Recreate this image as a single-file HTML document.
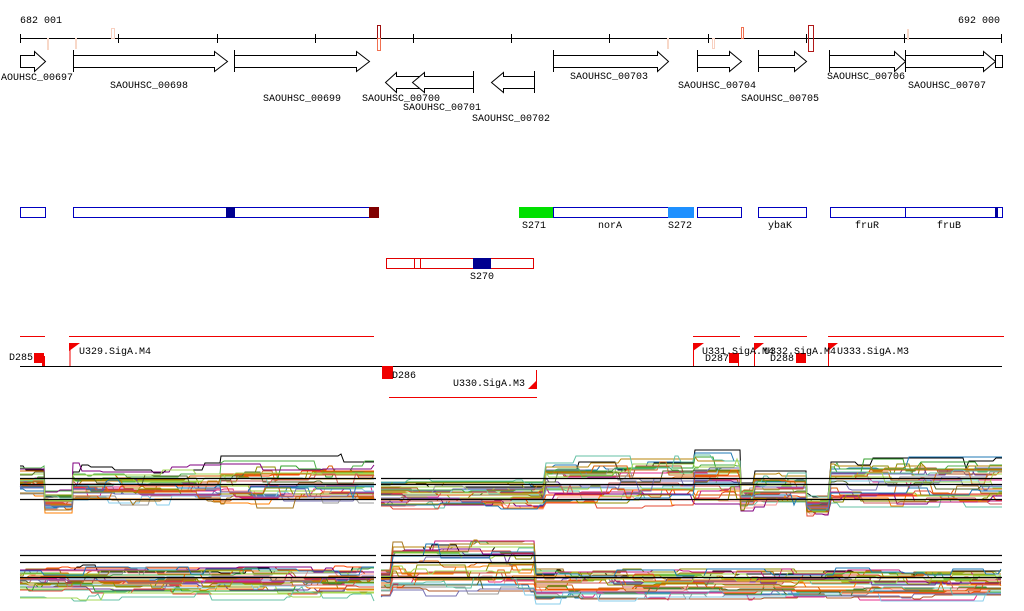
<!DOCTYPE html>
<html><head><meta charset="utf-8"><style>
html,body{margin:0;padding:0;background:#fff;}
svg{display:block;}
text{font-family:"Liberation Mono",monospace;font-size:10px;fill:#000;}
</style></head><body>
<svg id="s" width="1024" height="611" xmlns="http://www.w3.org/2000/svg">
<g id="exp"></g>
<text x="20" y="23">682 001</text>
<text x="1000" y="23" text-anchor="end">692 000</text>
<line x1="20" y1="38.5" x2="1002" y2="38.5" stroke="#000"/>
<g stroke="#000">
<line x1="20.5" y1="34" x2="20.5" y2="43"/><line x1="118.5" y1="34" x2="118.5" y2="43"/><line x1="217.5" y1="34" x2="217.5" y2="43"/><line x1="315.5" y1="34" x2="315.5" y2="43"/><line x1="413.5" y1="34" x2="413.5" y2="43"/><line x1="511.5" y1="34" x2="511.5" y2="43"/><line x1="609.5" y1="34" x2="609.5" y2="43"/><line x1="708.5" y1="34" x2="708.5" y2="43"/><line x1="806.5" y1="34" x2="806.5" y2="43"/><line x1="904.5" y1="34" x2="904.5" y2="43"/><line x1="1001.5" y1="34" x2="1001.5" y2="43"/>
</g>
<g fill="none">
<rect x="47.5" y="38.5" width="1" height="11" stroke="#f8d8c8"/>
<rect x="75.5" y="38.5" width="1" height="10" stroke="#f8d8c8"/>
<rect x="111.5" y="28.5" width="3" height="10" stroke="#f8d0c0"/>
<rect x="377.5" y="25.5" width="3" height="13" stroke="#a01010"/>
<rect x="377.5" y="38.5" width="3" height="12" stroke="#f07050"/>
<rect x="667.5" y="38.5" width="1" height="10" stroke="#f8d8c8"/>
<rect x="712.5" y="38.5" width="2" height="10" stroke="#f8d0c0"/>
<rect x="741.5" y="27.5" width="2" height="11" stroke="#f07050"/>
<rect x="808.5" y="25.5" width="5" height="26" stroke="#b01818"/>
<rect x="907.5" y="29.5" width="1" height="10" stroke="#f8d8c8"/>
</g>
<g fill="#fff" stroke="#000" stroke-width="1">
<path d="M20.5 55.5H34.5V51.5L45.5 61.5L34.5 71.5V67.5H20.5Z"/>
<path d="M73.5 55.5H214.5V51.5L227.5 61.5L214.5 71.5V67.5H73.5Z"/><line x1="73.5" y1="50" x2="73.5" y2="72"/>
<path d="M234.5 55.5H356.5V51.5L369.5 61.5L356.5 71.5V67.5H234.5Z"/><line x1="234.5" y1="50" x2="234.5" y2="72"/>
<path d="M553.5 55.5H657.5V51.5L668.5 61.5L657.5 71.5V67.5H553.5Z"/><line x1="553.5" y1="50" x2="553.5" y2="72"/>
<path d="M697.5 55.5H729.5V51.5L741.5 61.5L729.5 71.5V67.5H697.5Z"/><line x1="697.5" y1="50" x2="697.5" y2="72"/>
<path d="M758.5 55.5H794.5V51.5L806.5 61.5L794.5 71.5V67.5H758.5Z"/><line x1="758.5" y1="50" x2="758.5" y2="72"/>
<path d="M829.5 55.5H894.5V51.5L905.5 61.5L894.5 71.5V67.5H829.5Z"/><line x1="829.5" y1="50" x2="829.5" y2="72"/>
<path d="M905.5 55.5H983.5V51.5L995.5 61.5L983.5 71.5V67.5H905.5Z"/><line x1="905.5" y1="50" x2="905.5" y2="72"/>
<rect x="995.5" y="55.5" width="7" height="12"/>
<path d="M424.5 76.5H396.5V72.5L385.5 82.5L396.5 92.5V88.5H424.5Z"/>
<path d="M473.5 76.5H424.5V72.5L412.5 82.5L424.5 92.5V88.5H473.5Z"/><line x1="473.5" y1="71" x2="473.5" y2="93"/>
<path d="M534.5 76.5H503.5V72.5L491.5 82.5L503.5 92.5V88.5H534.5Z"/><line x1="534.5" y1="71" x2="534.5" y2="93"/>
</g>
<text x="1" y="80">AOUHSC_00697</text>
<text x="110" y="88">SAOUHSC_00698</text>
<text x="263" y="101">SAOUHSC_00699</text>
<text x="362" y="101">SAOUHSC_00700</text>
<text x="403" y="110">SAOUHSC_00701</text>
<text x="472" y="121">SAOUHSC_00702</text>
<text x="570" y="79">SAOUHSC_00703</text>
<text x="678" y="88">SAOUHSC_00704</text>
<text x="741" y="101">SAOUHSC_00705</text>
<text x="827" y="79">SAOUHSC_00706</text>
<text x="908" y="88">SAOUHSC_00707</text>
<g stroke="#0000c0" fill="#fff">
<rect x="20.5" y="207.5" width="25" height="10"/>
<rect x="73.5" y="207.5" width="305" height="10"/>
<rect x="553.5" y="207.5" width="115" height="10"/>
<rect x="697.5" y="207.5" width="44" height="10"/>
<rect x="758.5" y="207.5" width="48" height="10"/>
<rect x="830.5" y="207.5" width="75" height="10"/>
<rect x="905.5" y="207.5" width="90" height="10"/>
<rect x="995.5" y="207.5" width="7" height="10"/>
</g>
<rect x="226" y="207" width="9" height="11" fill="#000090"/>
<rect x="369" y="207" width="10" height="11" fill="#800000"/>
<rect x="519" y="207" width="34" height="11" fill="#00e000"/>
<rect x="668" y="207" width="26" height="11" fill="#1e90ff"/>
<rect x="995" y="207" width="3" height="11" fill="#0000a0"/>
<text x="522" y="228">S271</text><text x="598" y="228">norA</text><text x="668" y="228">S272</text>
<text x="768" y="228">ybaK</text><text x="855" y="228">fruR</text><text x="937" y="228">fruB</text>
<g stroke="#e00000" fill="#fff">
<rect x="386.5" y="258.5" width="147" height="10"/>
<line x1="414.5" y1="258" x2="414.5" y2="269"/><line x1="420.5" y1="258" x2="420.5" y2="269"/>
</g>
<rect x="473" y="258" width="18" height="11" fill="#000090"/>
<text x="470" y="279">S270</text>
<g stroke="#f00000">
<line x1="20" y1="336.5" x2="45" y2="336.5"/><line x1="69" y1="336.5" x2="374" y2="336.5"/>
<line x1="693" y1="336.5" x2="740" y2="336.5"/><line x1="754" y1="336.5" x2="807" y2="336.5"/><line x1="828" y1="336.5" x2="1004" y2="336.5"/>
<line x1="389" y1="397.5" x2="537" y2="397.5"/>
</g>
<line x1="20" y1="366.5" x2="1002" y2="366.5" stroke="#000"/>
<g fill="#f00000">
<rect x="34" y="353" width="10" height="10"/><rect x="42" y="356" width="3" height="10"/>
<path d="M69 343H80L69 351Z"/><rect x="69.5" y="343" width="1" height="23"/>
<rect x="382" y="366" width="11" height="13"/>
<path d="M528 389H537V380Z"/><rect x="536" y="370" width="1" height="19"/>
<path d="M693 343H704L693 351Z"/><rect x="693" y="343" width="1" height="23"/>
<rect x="729" y="353" width="10" height="10"/><rect x="738" y="353" width="1" height="13"/>
<path d="M754 343H764L754 351Z"/><rect x="754" y="343" width="1" height="23"/>
<rect x="796" y="353" width="10" height="10"/>
<path d="M828 343H838L828 351Z"/><rect x="828" y="343" width="1" height="23"/>
</g>
<text x="9" y="360">D285</text>
<text x="79" y="354">U329.SigA.M4</text>
<text x="392" y="378">D286</text>
<text x="453" y="386">U330.SigA.M3</text>
<text x="702" y="354">U331.SigA.M4</text>
<text x="705" y="361">D287</text>
<text x="764" y="354">U332.SigA.M4</text>
<text x="770" y="361">D288</text>
<text x="837" y="354">U333.SigA.M3</text>
<g stroke="#000" stroke-width="1.3">
<line x1="20" y1="478.5" x2="376" y2="478.5"/><line x1="381" y1="478.5" x2="1002" y2="478.5"/>
<line x1="20" y1="484.5" x2="376" y2="484.5"/><line x1="381" y1="484.5" x2="1002" y2="484.5"/>
<line x1="20" y1="499.5" x2="376" y2="499.5"/><line x1="381" y1="499.5" x2="1002" y2="499.5"/>
<line x1="20" y1="555.5" x2="376" y2="555.5"/><line x1="381" y1="555.5" x2="1002" y2="555.5"/>
<line x1="20" y1="562.5" x2="376" y2="562.5"/><line x1="381" y1="562.5" x2="1002" y2="562.5"/>
<line x1="20" y1="577.5" x2="376" y2="577.5"/><line x1="381" y1="577.5" x2="1002" y2="577.5"/>
</g>
</svg>
<script>
(function(){
var g=document.getElementById('exp');
var cols=['#e34a33','#d95f02','#8c8c00','#66c2a5','#1f78b4','#7570b3','#a6d854','#e7298a','#b15928','#6a3d9a','#33a02c','#fb9a99','#ff7f00','#999999','#87ceeb','#a6761d','#c51b7d','#4daf4a','#ff4500','#9acd32','#b8860b','#800080','#d2691e','#556b2f','#cd5c5c'];
var seed=11;function r(){seed=(seed*16807)%2147483647;return seed/2147483647;}
function draw(segs,n){
 for(var i=0;i<n;i++){
  var c=i==0?'#000':cols[i%cols.length],f=i==0?0:r(),pts=[];var noise=0;
  segs.forEach(function(s){
   var ff=Math.min(1,Math.max(0,f+(r()-0.5)*0.3));
   for(var x=s[0];x<=s[1];x+=3){
    if(r()<0.08) noise=(r()-0.5)*(s[3]-s[2])*0.35;
    var y=s[2]+ff*(s[3]-s[2])+noise;
    pts.push(x+','+y.toFixed(0));
   }
  });
  var p=document.createElementNS('http://www.w3.org/2000/svg','polyline');
  p.setAttribute('points',pts.join(' '));p.setAttribute('fill','none');
  p.setAttribute('stroke',c);p.setAttribute('stroke-width','1');
  g.appendChild(p);
 }
}
draw([[20,44,466,494],[45,72,492,510],[73,220,468,500],[221,376,461,502]],32);
draw([[381,545,482,506],[546,694,462,502],[695,740,455,498],[741,754,488,505],[755,806,476,502],[807,830,498,514],[831,1002,463,502]],32);
draw([[20,376,570,597]],32);
draw([[381,392,570,597],[393,535,547,590],[536,1002,572,597]],32);
})();
</script>
</body></html>
